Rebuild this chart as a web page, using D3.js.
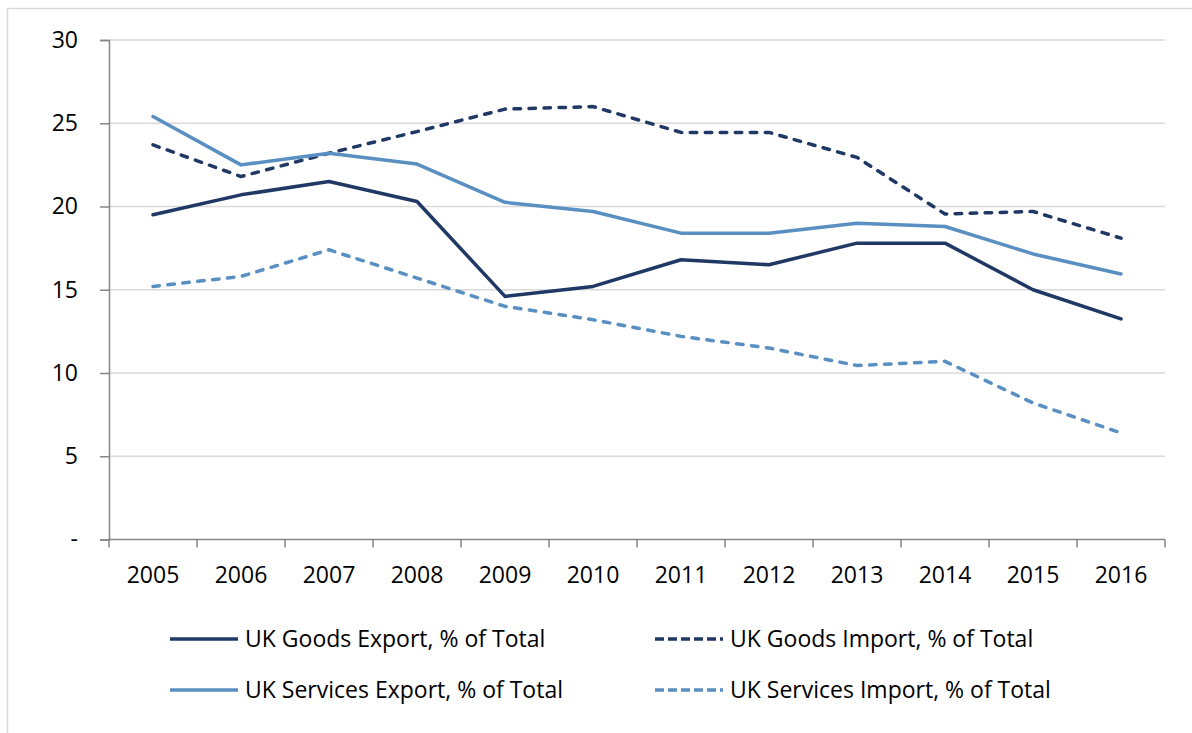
<!DOCTYPE html>
<html>
<head>
<meta charset="utf-8">
<script src="https://cdn.jsdelivr.net/npm/d3@7"></script>
<style>
  html, body { margin: 0; padding: 0; background: #fff; }
  svg { display: block; font-family: "Open Sans", "Noto Sans", sans-serif; }
</style>
</head>
<body>
<svg id="chart" width="1192" height="733"></svg>
<script>
// Years on the horizontal axis
const years = ["2005","2006","2007","2008","2009","2010","2011","2012","2013","2014","2015","2016"];

// Share of total UK trade, per cent
const goodsExport    = [19.5, 20.7, 21.5, 20.3, 14.6, 15.2, 16.8, 16.5, 17.8, 17.8, 15.0, 13.25];
const goodsImport    = [23.7, 21.8, 23.2, 24.5, 25.85, 26.0, 24.45, 24.45, 22.95, 19.55, 19.7, 18.1];
const servicesExport = [25.4, 22.5, 23.2, 22.55, 20.25, 19.7, 18.4, 18.4, 19.0, 18.8, 17.15, 15.95];
const servicesImport = [15.2, 15.8, 17.4, 15.7, 14.0, 13.2, 12.2, 11.5, 10.45, 10.7, 8.2, 6.4];

const seriesNames = [
  "UK Goods Export, % of Total",
  "UK Goods Import, % of Total",
  "UK Services Export, % of Total",
  "UK Services Import, % of Total"
];

// Y-axis tick values and their labels
const yTicks = [0, 5, 10, 15, 20, 25, 30];
const yTickLabels = ["-", "5", "10", "15", "20", "25", "30"];

const navy = "#1f3864";
const steel = "#5a8fc2";

const series = [
  { name: seriesNames[0], values: goodsExport,    color: navy,  dashed: false },
  { name: seriesNames[1], values: goodsImport,    color: navy,  dashed: true  },
  { name: seriesNames[2], values: servicesExport, color: steel, dashed: false },
  { name: seriesNames[3], values: servicesImport, color: steel, dashed: true  }
];

const svg = d3.select("#chart");

// Outer chart frame
svg.append("rect")
  .attr("x", 7.5).attr("y", 8.5)
  .attr("width", 1200).attr("height", 740)
  .attr("fill", "none").attr("stroke", "#d9d9d9").attr("stroke-width", 1.5);

const plot = { left: 109, right: 1165, top: 40, bottom: 539.5 };

const x = d3.scaleBand().domain(years).range([plot.left, plot.right]);
const y = d3.scaleLinear().domain([0, 30]).range([plot.bottom, plot.top]);

// Horizontal gridlines
svg.append("g")
  .selectAll("line")
  .data(yTicks.filter(t => t > 0))
  .join("line")
  .attr("x1", plot.left).attr("x2", plot.right)
  .attr("y1", d => y(d)).attr("y2", d => y(d))
  .attr("stroke", "#d9d9d9").attr("stroke-width", 1.5);

// Y axis
const yAxis = svg.append("g")
  .attr("transform", `translate(${plot.left},0)`)
  .call(d3.axisLeft(y).tickValues(yTicks).tickSize(9).tickPadding(22)
    .tickFormat((d, i) => yTickLabels[i]));
yAxis.select(".domain").attr("stroke", "#868686").attr("stroke-width", 1.5);
yAxis.selectAll(".tick line").attr("stroke", "#868686").attr("stroke-width", 1.5);
yAxis.selectAll(".tick text")
  .attr("font-size", 23).attr("fill", "#000")
  .attr("font-family", "'Open Sans', sans-serif");

// X axis: ticks at category boundaries, labels centred in each band
const xAxisG = svg.append("g").attr("transform", `translate(0,${plot.bottom})`);
xAxisG.append("line")
  .attr("x1", plot.left).attr("x2", plot.right)
  .attr("stroke", "#868686").attr("stroke-width", 1.5);
const boundaries = years.map(d => x(d)).concat([x(years[years.length - 1]) + x.bandwidth()]);
xAxisG.selectAll("line.tick")
  .data(boundaries)
  .join("line")
  .attr("class", "tick")
  .attr("x1", d => d).attr("x2", d => d)
  .attr("y1", 0).attr("y2", 8)
  .attr("stroke", "#868686").attr("stroke-width", 1.5);
xAxisG.selectAll("text")
  .data(years)
  .join("text")
  .attr("x", d => x(d) + x.bandwidth() / 2)
  .attr("y", 43)
  .attr("text-anchor", "middle")
  .attr("font-size", 23)
  .attr("fill", "#000")
  .text(d => d);

// Series lines
const line = d3.line()
  .x((d, i) => x(years[i]) + x.bandwidth() / 2)
  .y(d => y(d));

svg.append("g")
  .selectAll("path")
  .data(series)
  .join("path")
  .attr("d", d => line(d.values))
  .attr("fill", "none")
  .attr("stroke", d => d.color)
  .attr("stroke-width", 3.5)
  .attr("stroke-linejoin", "round")
  .attr("stroke-linecap", "round")
  .attr("stroke-dasharray", d => d.dashed ? "6.5,8.5" : null);

// Legend, two columns by two rows
const legendPos = [
  { x: 170, y: 639 },
  { x: 655, y: 639 },
  { x: 170, y: 690 },
  { x: 655, y: 690 }
];
const legend = svg.append("g")
  .selectAll("g")
  .data(series)
  .join("g")
  .attr("transform", (d, i) => `translate(${legendPos[i].x},${legendPos[i].y})`);
legend.append("line")
  .attr("x1", 0).attr("x2", 68)
  .attr("stroke", d => d.color)
  .attr("stroke-width", 3.5)
  .attr("stroke-dasharray", d => d.dashed ? "9,4" : null);
legend.append("text")
  .attr("x", 75)
  .attr("dy", "0.35em")
  .attr("font-size", 23)
  .attr("fill", "#000")
  .text(d => d.name);
</script>
</body>
</html>
